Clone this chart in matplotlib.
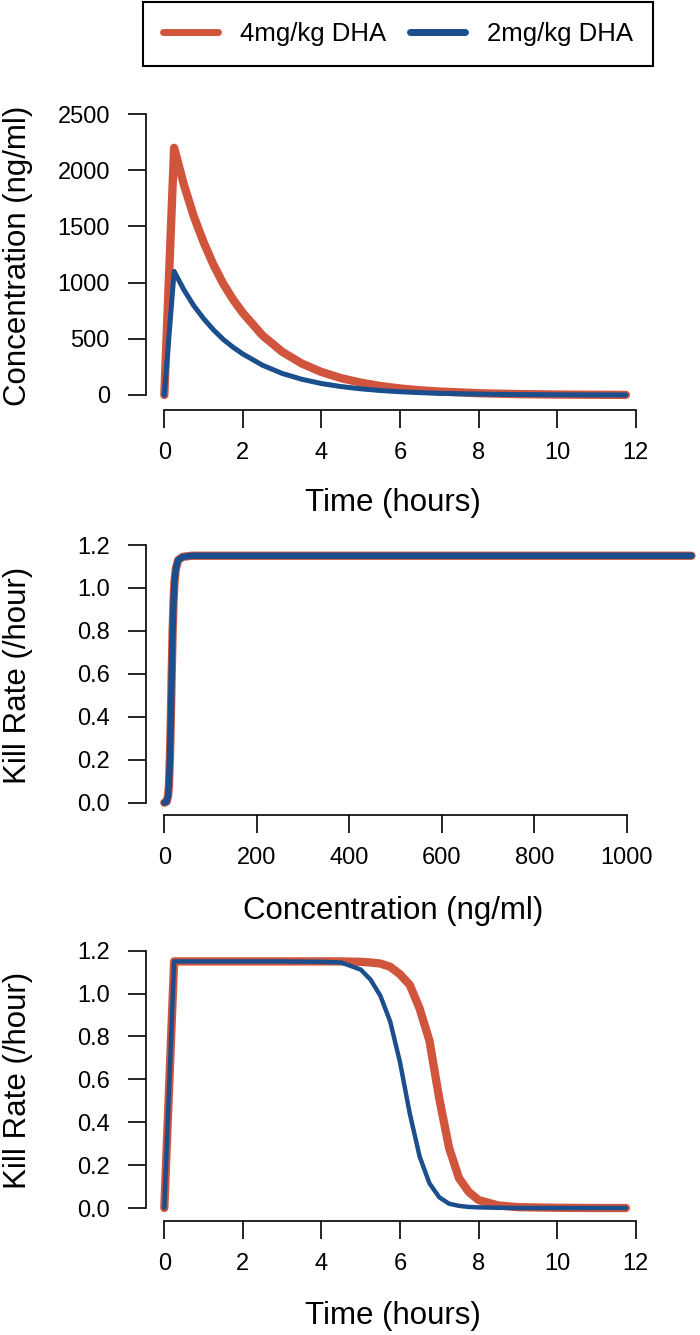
import matplotlib
matplotlib.use("Agg")
import matplotlib.pyplot as plt
from matplotlib.lines import Line2D

plt.rcParams['font.family'] = ['Liberation Sans', 'DejaVu Sans']

RED = "#D1553D"
BLUE = "#1A4E8C"

# concentration over time (ng/ml)
time_conc = [0, 0.25, 0.5, 0.75, 1, 1.25, 1.5, 1.75, 2, 2.5, 3, 3.5, 4, 4.5,
             5, 5.5, 6, 6.5, 7, 8, 9, 10, 11, 11.75]
conc_4mg = [0, 2200, 1870, 1590, 1360, 1160, 990, 850, 730, 530, 385, 280, 205, 150,
            110, 80, 58, 42, 31, 16, 8, 4, 2, 1]
conc_2mg = [0, 1100, 935, 795, 680, 580, 495, 425, 365, 265, 192, 140, 102, 75,
            55, 40, 29, 21, 15, 8, 4, 2, 1, 0.5]

# kill rate vs concentration
conc_axis = [0, 5, 8, 10, 12, 14, 16, 18, 20, 22, 25, 30, 40, 60, 100, 1140]
kill_by_conc = [0, 0.005, 0.03, 0.08, 0.2, 0.38, 0.6, 0.8, 0.94, 1.03, 1.09, 1.13,
                1.145, 1.15, 1.15, 1.15]

# kill rate over time
time_kill = [0, 0.25, 1, 2, 3, 4, 4.5, 5, 5.25, 5.5, 5.75, 6, 6.25, 6.5, 6.75,
             7, 7.25, 7.5, 7.75, 8, 8.5, 9, 10, 11, 11.75]
kill_4mg = [0, 1.15, 1.15, 1.15, 1.15, 1.15, 1.15, 1.148, 1.145, 1.14, 1.125, 1.09,
            1.04, 0.93, 0.78, 0.51, 0.28, 0.14, 0.075, 0.037, 0.012, 0.004, 0.001, 0, 0]
kill_2mg = [0, 1.15, 1.15, 1.15, 1.15, 1.148, 1.145, 1.112, 1.065, 0.99, 0.87, 0.68,
            0.44, 0.24, 0.115, 0.05, 0.02, 0.01, 0.005, 0.003, 0.001, 0, 0, 0, 0]

W, H = 700, 1335
fig = plt.figure(figsize=(W / 100, H / 100), dpi=100)


def make_axes(left, right, top, bottom):
    return fig.add_axes([left / W, 1 - bottom / H, (right - left) / W, (bottom - top) / H])


def style(ax, xticks, yticks, ylabels=None):
    for s in ['top', 'right']:
        ax.spines[s].set_visible(False)
    for s in ['left', 'bottom']:
        ax.spines[s].set_linewidth(1.2)
    ax.set_xticks(xticks)
    ax.set_yticks(yticks)
    if ylabels is not None:
        ax.set_yticklabels(ylabels)
    ax.spines['bottom'].set_bounds(xticks[0], xticks[-1])
    ax.spines['left'].set_bounds(yticks[0], yticks[-1])
    ax.tick_params(axis='both', direction='out', length=13, width=1.2, labelsize=17)
    ax.tick_params(axis='x', pad=10)
    ax.tick_params(axis='y', pad=13)


def draw(ax, x, y, color, lw, clip=True):
    ax.plot(x, y, color=color, lw=lw, solid_capstyle='round',
            solid_joinstyle='round', clip_on=clip)


kr_ticks = [0, 0.2, 0.4, 0.6, 0.8, 1.0, 1.2]
kr_labels = ["0.0", "0.2", "0.4", "0.6", "0.8", "1.0", "1.2"]

# panel 1
ax1 = make_axes(146, 640, 103, 410)
draw(ax1, time_conc, conc_4mg, RED, 6)
draw(ax1, time_conc, conc_2mg, BLUE, 3.6)
ax1.set_xlim(-0.466, 12.11)
ax1.set_ylim(-133.5, 2598.7)
style(ax1, [0, 2, 4, 6, 8, 10, 12], [0, 500, 1000, 1500, 2000, 2500])

# panel 2
ax2 = make_axes(146, 640, 534.7, 815)
draw(ax2, conc_axis, kill_by_conc, RED, 6, clip=False)
draw(ax2, conc_axis, kill_by_conc, BLUE, 4.6, clip=False)
ax2.set_xlim(-39.6, 1028.7)
ax2.set_ylim(-0.0573, 1.248)
style(ax2, [0, 200, 400, 600, 800, 1000], kr_ticks, kr_labels)

# panel 3
ax3 = make_axes(146, 640, 940.4, 1220.7)
draw(ax3, time_kill, kill_4mg, RED, 6)
draw(ax3, time_kill, kill_2mg, BLUE, 3.2)
ax3.set_xlim(-0.466, 12.11)
ax3.set_ylim(-0.0592, 1.248)
style(ax3, [0, 2, 4, 6, 8, 10, 12], kr_ticks, kr_labels)

# axis titles
lab = dict(fontsize=22.5, ha='center', va='center')
fig.text(393 / W, 1 - 503 / H, "Time (hours)", **lab)
fig.text(393 / W, 1 - 911 / H, "Concentration (ng/ml)", **lab)
fig.text(393 / W, 1 - 1316 / H, "Time (hours)", **lab)
fig.text(18 / W, 1 - 256 / H, "Concentration (ng/ml)", rotation=90, **lab)
fig.text(18 / W, 1 - 675 / H, "Kill Rate (/hour)", rotation=90, **lab)
fig.text(18 / W, 1 - 1080 / H, "Kill Rate (/hour)", rotation=90, **lab)

# legend
handles = [Line2D([], [], color=RED, lw=5, solid_capstyle='round'),
           Line2D([], [], color=BLUE, lw=5, solid_capstyle='round')]
leg = fig.legend(handles, ["4mg/kg DHA", "2mg/kg DHA"], loc='upper left',
                 bbox_to_anchor=(143 / W, 1 - 2 / H), ncol=2, fontsize=18.5,
                 frameon=True, fancybox=False, edgecolor='black', framealpha=1,
                 handlelength=2.14, handletextpad=0.86, columnspacing=0.93,
                 borderpad=0.78, borderaxespad=0)
leg.get_frame().set_linewidth(1.5)

fig.savefig("out.png", dpi=100)
